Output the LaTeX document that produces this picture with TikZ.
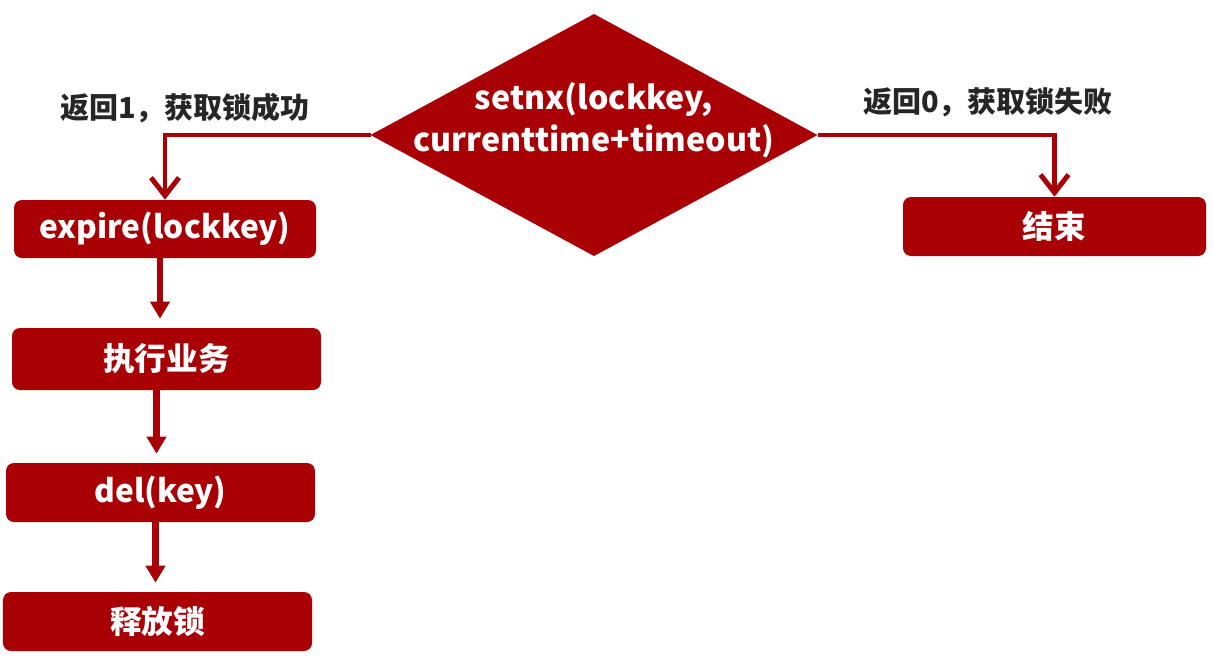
\documentclass[tikz,border=0pt]{standalone}
\usepackage{fontspec}
\setmainfont{Noto Sans CJK SC}
\usetikzlibrary{shapes.geometric,arrows.meta}
\definecolor{lockred}{RGB}{168,0,4}
\begin{document}
\begin{tikzpicture}[
    stepbox/.style={fill=lockred,rounded corners=0.16cm,minimum height=1.18cm,
      minimum width=6.18cm,text=white,font=\fontsize{18}{22}\selectfont\bfseries},
    decision/.style={diamond,fill=lockred,inner sep=0pt,outer sep=0pt,
      minimum width=8.94cm,minimum height=4.84cm},
    branch/.style={draw=lockred,line width=2.8pt,-{Straight Barb[length=0.36cm,width=0.56cm]}},
    flow/.style={draw=lockred,line width=3.6pt,-{Triangle[length=0.34cm,width=0.38cm]},shorten >=0.18cm},
    result/.style={font=\fontsize{16.5}{20}\selectfont\bfseries,text=black!85}]
  \useasboundingbox (0,0) rectangle (24.26,-13.22);
  % decision
  \node[decision] (check) at (11.88,-2.70) {};
  \node[text=white,align=center,font=\fontsize{18.3}{24}\selectfont\bfseries] (checktext) at (11.88,-2.40)
    {setnx(lockkey,\\currenttime+timeout)};
  % left branch
  \node[stepbox,minimum width=6.04cm,minimum height=1.16cm] (expire) at (3.30,-4.58) {expire(lockkey)};
  \node[stepbox,minimum height=1.24cm] (work) at (3.33,-7.18) {执行业务};
  \node[stepbox] (delkey) at (3.21,-9.85) {del(key)};
  \node[stepbox] (release) at (3.15,-12.43) {释放锁};
  % right branch
  \node[stepbox,minimum width=6.06cm] (finish) at (21.09,-4.53) {结束};
  \node[result] (ok) at (3.70,-2.16) {返回1，获取锁成功};
  \node[result] (fail) at (19.76,-2.04) {返回0，获取锁失败};
  % connectors
  \draw[branch] (check.west) -| (expire.north);
  \draw[branch] (check.east) -| (finish.north);
  \draw[flow] ([xshift=-0.1cm]expire.south) -- ([xshift=-0.1cm]expire.south |- work.north);
  \draw[flow] ([xshift=-0.2cm]work.south) -- ([xshift=-0.2cm]work.south |- delkey.north);
  \draw[flow] ([xshift=-0.1cm]delkey.south) -- ([xshift=-0.1cm]delkey.south |- release.north);
\end{tikzpicture}
\end{document}
